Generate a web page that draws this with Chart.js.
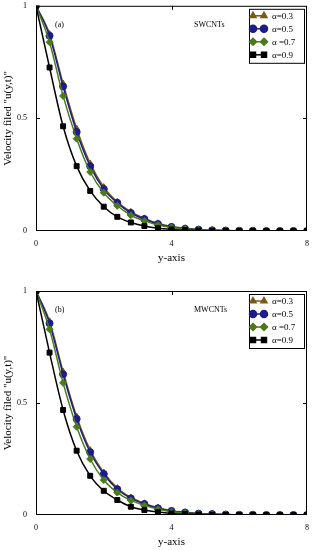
<!DOCTYPE html>
<html>
<head>
<meta charset="utf-8">
<script src="https://cdn.jsdelivr.net/npm/chart.js@4.4.0/dist/chart.umd.min.js"></script>
<style>
  body { margin: 0; background: #fff; }
  .box { position: absolute; left: 0; width: 316px; }
</style>
</head>
<body>
<div class="box" style="top:0;height:270px"><canvas id="chartA" width="316" height="270"></canvas></div>
<div class="box" style="top:270px;height:280px"><canvas id="chartB" width="316" height="280"></canvas></div>
<script>
// y positions (x axis of the chart)
const yAxisPts = [0, 0.4, 0.8, 1.2, 1.6, 2, 2.4, 2.8, 3.2, 3.6, 4, 4.4, 4.8, 5.2, 5.6, 6, 6.4, 6.8, 7.2, 7.6, 8];
const xTicks = [0, 4, 8];
const yTicks = [0, 0.5, 1];
const seriesNames = ['\u03b1=0.3', '\u03b1=0.5', '\u03b1 =0.7', '\u03b1=0.9'];

// SWCNTs
const swA03 = [1, 0.875, 0.655, 0.455, 0.300, 0.195, 0.130, 0.085, 0.056, 0.034, 0.020, 0.012, 0.007, 0.004, 0.002, 0.001, 0.001, 0, 0, 0, 0];
const swA05 = [1, 0.867, 0.642, 0.440, 0.288, 0.186, 0.125, 0.080, 0.053, 0.031, 0.018, 0.010, 0.006, 0.003, 0.002, 0.001, 0.001, 0, 0, 0, 0];
const swA07 = [1, 0.838, 0.600, 0.410, 0.262, 0.170, 0.112, 0.070, 0.045, 0.027, 0.016, 0.009, 0.005, 0.003, 0.002, 0.001, 0, 0, 0, 0, 0];
const swA09 = [1, 0.726, 0.465, 0.288, 0.178, 0.108, 0.063, 0.038, 0.022, 0.012, 0.007, 0.004, 0.002, 0.001, 0.001, 0, 0, 0, 0, 0, 0];

// MWCNTs
const mwA03 = [1, 0.865, 0.640, 0.440, 0.290, 0.190, 0.120, 0.078, 0.052, 0.032, 0.019, 0.012, 0.007, 0.004, 0.002, 0.001, 0.001, 0, 0, 0, 0];
const mwA05 = [1, 0.856, 0.628, 0.429, 0.280, 0.183, 0.115, 0.074, 0.049, 0.030, 0.018, 0.011, 0.006, 0.004, 0.002, 0.001, 0.001, 0, 0, 0, 0];
const mwA07 = [1, 0.829, 0.590, 0.394, 0.250, 0.156, 0.100, 0.065, 0.043, 0.026, 0.015, 0.009, 0.005, 0.003, 0.002, 0.001, 0, 0, 0, 0, 0];
const mwA09 = [1, 0.725, 0.469, 0.287, 0.175, 0.108, 0.067, 0.037, 0.022, 0.013, 0.007, 0.004, 0.002, 0.001, 0.001, 0, 0, 0, 0, 0, 0];

const colors = ['#7a5a12', '#1c1c8a', '#4a7a1c', '#000000'];
const markers = ['triangle', 'circle', 'rectRot', 'rect'];
const serif = '"Liberation Serif", "DejaVu Serif", serif';

function pts(vals) {
  return yAxisPts.map((x, i) => ({ x: x, y: vals[i] }));
}

// frame, inner ticks, boxed legend and labels
const decor = {
  id: 'decor',
  afterDatasetsDraw(chart, args, opts) {
    const ctx = chart.ctx, a = chart.chartArea;
    const xs = chart.scales.x, ys = chart.scales.y;
    ctx.save();
    ctx.strokeStyle = '#000';
    ctx.lineWidth = 1;
    ctx.strokeRect(a.left + 0.5, a.top + 0.5, a.right - a.left - 1, a.bottom - a.top - 1);
    ctx.beginPath();
    const mx = Math.round(xs.getPixelForValue(4)) + 0.5;
    ctx.moveTo(mx, a.top); ctx.lineTo(mx, a.top + 4);
    ctx.moveTo(mx, a.bottom); ctx.lineTo(mx, a.bottom - 4);
    const my = Math.round(ys.getPixelForValue(0.5)) + 0.5;
    ctx.moveTo(a.left, my); ctx.lineTo(a.left + 4, my);
    ctx.moveTo(a.right, my); ctx.lineTo(a.right - 4, my);
    ctx.stroke();

    // labels
    ctx.fillStyle = '#000';
    ctx.font = '8px ' + serif;
    ctx.textBaseline = 'middle';
    ctx.textAlign = 'left';
    ctx.fillText(opts.tag, a.left + 19, a.top + 19);
    ctx.fillText(opts.name, a.left + 158, a.top + 19);

    // legend
    const lx = 249, ly = a.top + 3, lw = 55, lh = 54;
    ctx.fillStyle = '#fff';
    ctx.fillRect(lx, ly, lw, lh);
    ctx.strokeRect(lx + 0.5, ly + 0.5, lw, lh);
    ctx.font = '9px ' + serif;
    chart.data.datasets.forEach((ds, i) => {
      const yy = ly + 7 + i * 13;
      ctx.strokeStyle = ds.borderColor;
      ctx.lineWidth = 1.5;
      ctx.beginPath();
      ctx.moveTo(lx + 3, yy); ctx.lineTo(lx + 17, yy);
      ctx.stroke();
      [lx + 4, lx + 15].forEach(px => {
        Chart.helpers.drawPoint(ctx, {
          pointStyle: ds.pointStyle, radius: 3.5, borderWidth: 1, rotation: 0
        }, px, yy);
        ctx.fillStyle = ds.borderColor;
        ctx.fill();
      });
      ctx.fillStyle = '#000';
      ctx.fillText(ds.label, lx + 23, yy + 0.5);
    });
    ctx.restore();
  }
};

function makeChart(id, series, tag, name, xTitleGap, xBoxH, topPad) {
  const datasets = series.map((vals, i) => ({
    label: seriesNames[i],
    data: pts(vals),
    borderColor: colors[i],
    backgroundColor: colors[i],
    borderWidth: 1.5,
    pointStyle: markers[i],
    pointRadius: 3.5,
    pointBorderWidth: 1,
    cubicInterpolationMode: 'monotone',
    order: 3 - i
  }));
  return new Chart(document.getElementById(id), {
    type: 'line',
    data: { datasets: datasets },
    plugins: [decor],
    options: {
      responsive: false,
      animation: false,
      layout: { padding: { top: topPad, right: 9, left: 0, bottom: 0 } },
      plugins: {
        legend: { display: false },
        tooltip: { enabled: false },
        decor: { tag: tag, name: name }
      },
      scales: {
        x: {
          type: 'linear', min: 0, max: 8,
          afterBuildTicks: s => { s.ticks = xTicks.map(v => ({ value: v })); },
          ticks: { color: '#000', font: { family: serif, size: 8 }, padding: 0, maxRotation: 0 },
          grid: { display: false },
          border: { display: false },
          title: { display: true, text: 'y-axis', color: '#000', font: { family: serif, size: 11 }, padding: { top: 0, bottom: xTitleGap } },
          afterFit: s => { s.height = xBoxH; }
        },
        y: {
          min: 0, max: 1,
          afterBuildTicks: s => { s.ticks = yTicks.map(v => ({ value: v })); },
          ticks: { color: '#000', font: { family: serif, size: 8 }, padding: 1, callback: v => String(v) },
          grid: { display: false },
          border: { display: false },
          title: { display: true, text: 'Velocity filed "u(y,t)"', color: '#000', font: { family: serif, size: 11 }, padding: { top: 2, bottom: 0 } },
          afterFit: s => { s.width = 36; }
        }
      }
    }
  });
}

makeChart('chartA', [swA03, swA05, swA07, swA09], '(a)', 'SWCNTs', 5, 39, 5);
makeChart('chartB', [mwA03, mwA05, mwA07, mwA09], '(b)', 'MWCNTs', 1, 35, 21);
</script>
</body>
</html>
